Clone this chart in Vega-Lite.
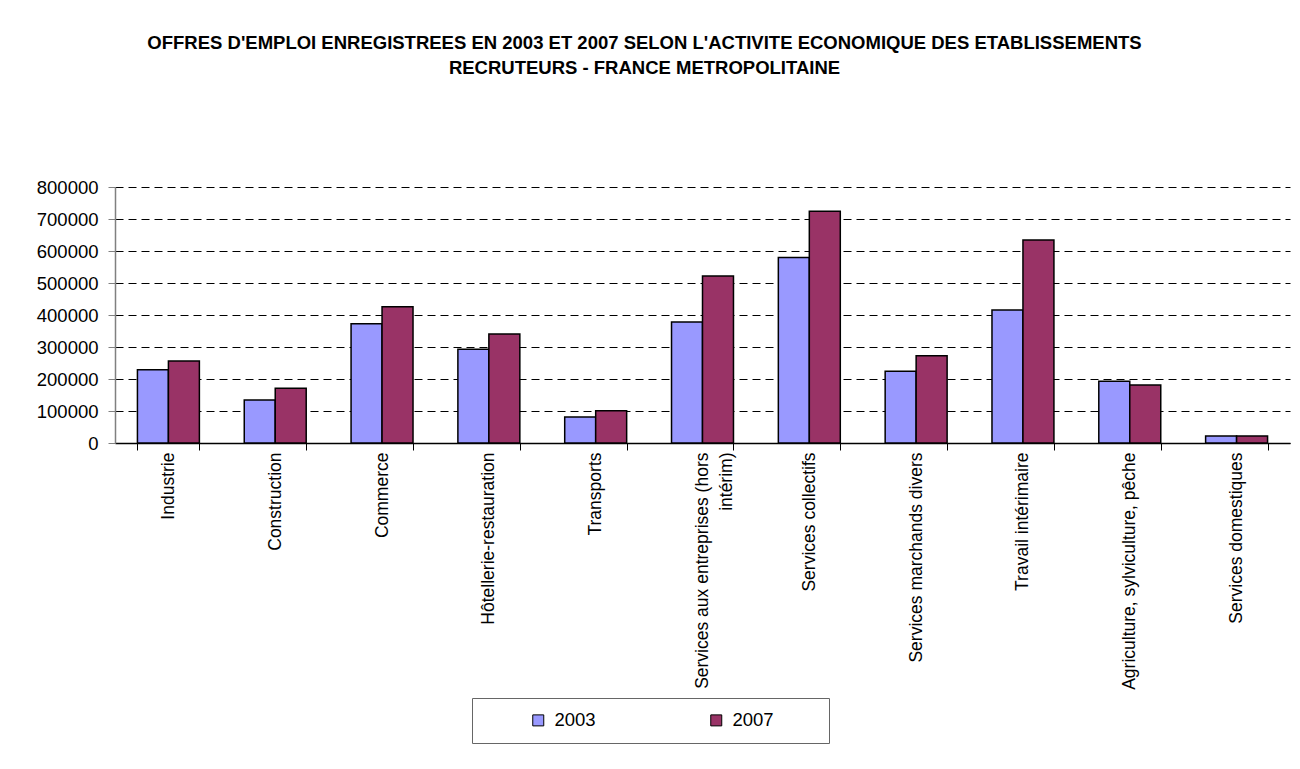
{
  "$schema": "https://vega.github.io/schema/vega-lite/v6.json",
  "autosize": "none",
  "padding": {"left": 115, "top": 187, "right": 10, "bottom": 326},
  "width": 1175,
  "height": 256,
  "background": "white",
  "title": {
    "text": ["OFFRES D'EMPLOI ENREGISTREES EN 2003 ET 2007 SELON L'ACTIVITE ECONOMIQUE DES ETABLISSEMENTS", "RECRUTEURS - FRANCE METROPOLITAINE"],
    "font": "Liberation Sans",
    "fontSize": 18.5,
    "fontWeight": "bold",
    "color": "black",
    "lineHeight": 25,
    "anchor": "middle",
    "dx": -58,
    "offset": 101
  },
  "data": {
    "values": [
      {"secteur": "Industrie", "annee": "2003", "offres": 229000},
      {"secteur": "Industrie", "annee": "2007", "offres": 256000},
      {"secteur": "Construction", "annee": "2003", "offres": 134000},
      {"secteur": "Construction", "annee": "2007", "offres": 171000},
      {"secteur": "Commerce", "annee": "2003", "offres": 373000},
      {"secteur": "Commerce", "annee": "2007", "offres": 426000},
      {"secteur": "Hôtellerie-restauration", "annee": "2003", "offres": 293000},
      {"secteur": "Hôtellerie-restauration", "annee": "2007", "offres": 341000},
      {"secteur": "Transports", "annee": "2003", "offres": 81000},
      {"secteur": "Transports", "annee": "2007", "offres": 101000},
      {"secteur": "Services aux entreprises (hors intérim)", "annee": "2003", "offres": 378000},
      {"secteur": "Services aux entreprises (hors intérim)", "annee": "2007", "offres": 522000},
      {"secteur": "Services collectifs", "annee": "2003", "offres": 580000},
      {"secteur": "Services collectifs", "annee": "2007", "offres": 724000},
      {"secteur": "Services marchands divers", "annee": "2003", "offres": 224000},
      {"secteur": "Services marchands divers", "annee": "2007", "offres": 273000},
      {"secteur": "Travail intérimaire", "annee": "2003", "offres": 416000},
      {"secteur": "Travail intérimaire", "annee": "2007", "offres": 634000},
      {"secteur": "Agriculture, sylviculture, pêche", "annee": "2003", "offres": 193000},
      {"secteur": "Agriculture, sylviculture, pêche", "annee": "2007", "offres": 181000},
      {"secteur": "Services domestiques", "annee": "2003", "offres": 22000},
      {"secteur": "Services domestiques", "annee": "2007", "offres": 22000}
    ]
  },
  "mark": {"type": "bar", "stroke": "black", "strokeWidth": 1.5},
  "encoding": {
    "x": {
      "field": "secteur",
      "type": "nominal",
      "sort": null,
      "scale": {"paddingInner": 0.42, "paddingOuter": 0.21},
      "axis": {
        "title": null,
        "labelAngle": -90,
        "labelAlign": "right",
        "labelBaseline": "middle",
        "labelFont": "Liberation Sans",
        "labelFontSize": 17.5,
        "labelColor": "black",
        "labelLimit": 400,
        "labelPadding": 2,
        "labelLineHeight": 24,
        "labelExpr": "datum.label == 'Services aux entreprises (hors intérim)' ? ['Services aux entreprises (hors', 'intérim)'] : datum.label",
        "tickBand": "extent",
        "tickSize": 7,
        "tickColor": "black",
        "domainColor": "black",
        "domainWidth": 1.5,
        "grid": false
      }
    },
    "xOffset": {"field": "annee", "type": "nominal", "scale": {"paddingInner": 0}},
    "y": {
      "field": "offres",
      "type": "quantitative",
      "scale": {"domain": [0, 800000], "nice": false},
      "axis": {
        "title": null,
        "values": [0, 100000, 200000, 300000, 400000, 500000, 600000, 700000, 800000],
        "format": "d",
        "labelFont": "Liberation Sans",
        "labelFontSize": 18.5,
        "labelColor": "black",
        "labelPadding": 10,
        "tickSize": 7,
        "tickColor": "#808080",
        "domainColor": "#808080",
        "domainWidth": 1.5,
        "grid": true,
        "gridColor": "black",
        "gridDash": [8, 5],
        "gridWidth": 1
      }
    },
    "color": {
      "field": "annee",
      "type": "nominal",
      "scale": {"domain": ["2003", "2007"], "range": ["#9999FF", "#993366"]},
      "legend": {
        "title": null,
        "orient": "none",
        "legendX": 357,
        "legendY": 511,
        "direction": "horizontal",
        "columns": 2,
        "columnPadding": 25,
        "padding": 13,
        "symbolOffset": 44,
        "symbolType": "square",
        "symbolSize": 121,
        "symbolStrokeColor": "black",
        "symbolStrokeWidth": 1,
        "symbolOpacity": 1,
        "labelFont": "Liberation Sans",
        "labelFontSize": 18.5,
        "labelColor": "black",
        "labelOffset": 7,
        "labelLimit": 500,
        "labelExpr": "datum.label + '\u2800\u2800\u2800'",
        "strokeColor": "#666666",
        "fillColor": "white"
      }
    }
  },
  "config": {
    "view": {"stroke": null}
  }
}
